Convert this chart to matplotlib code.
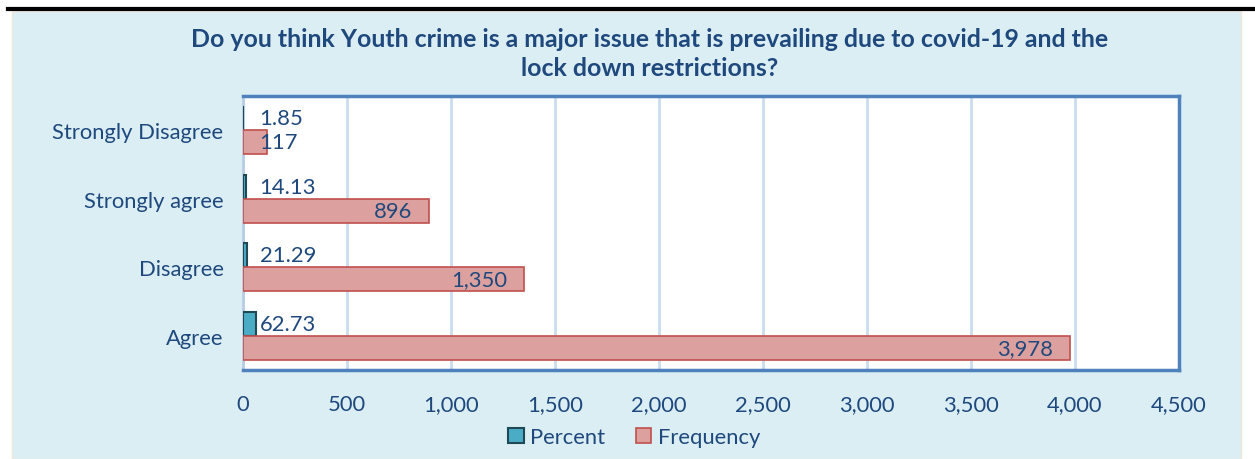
import matplotlib.pyplot as plt
import numpy as np
from matplotlib.patches import Rectangle
from matplotlib.lines import Line2D

# datos del grafico
categorias = ['Agree', 'Disagree', 'Strongly agree', 'Strongly Disagree']
frecuencia = [3978, 1350, 896, 117]
porcentaje = [62.73, 21.29, 14.13, 1.85]
ticks_x = [0, 500, 1000, 1500, 2000, 2500, 3000, 3500, 4000, 4500]
titulo = 'Do you think Youth crime is a major issue that is prevailing due to covid-19 and the\nlock down restrictions?'

azul_texto = '#1F497D'
plt.rcParams['font.family'] = ['Lato', 'DejaVu Sans']
tam = 15.8

fig = plt.figure(figsize=(12.55, 4.6), dpi=100)
fig.patch.set_facecolor('white')

# panel de fondo y linea superior
fig.patches.append(Rectangle((12 / 1255, 0), (1241 - 12) / 1255, 1 - 12 / 460,
                             transform=fig.transFigure, facecolor='#DBEEF4',
                             edgecolor='#F2E6D9', linewidth=1, zorder=-2))
fig.lines.append(Line2D([8 / 1255, 1], [1 - 9.5 / 460, 1 - 9.5 / 460],
                        transform=fig.transFigure, color='black', linewidth=3, zorder=-1))

ax = fig.add_axes([243 / 1255, 1 - 371 / 460, (1179 - 243) / 1255, (371 - 97) / 460])
ax.set_zorder(1)
ax.set_facecolor('white')

y = np.arange(len(categorias))
alto = 0.35
ax.barh(y + alto / 2, porcentaje, height=alto, color='#4BACC6', edgecolor='#1F4A55',
        linewidth=1.5, zorder=3, label='Percent')
ax.barh(y - alto / 2, frecuencia, height=alto, color='#DCA09E', edgecolor='#C0504D',
        linewidth=1.2, zorder=3, label='Frequency')

escala = 4500 / 936  # unidades por pixel
for i in range(len(categorias)):
    xp = max(porcentaje[i] + 1 * escala, 80)
    ax.text(xp, y[i] + alto / 2, f'{porcentaje[i]:.2f}', ha='left', va='center',
            fontsize=tam, color=azul_texto, zorder=4)
    f = frecuencia[i]
    if f > 400:
        ax.text(f - 17 * escala, y[i] - alto / 2, f'{f:,}', ha='right', va='center',
                fontsize=tam, color=azul_texto, zorder=4)
    else:
        ax.text(80, y[i] - alto / 2, f'{f:,}', ha='left', va='center',
                fontsize=tam, color=azul_texto, zorder=4)

ax.set_xlim(0, 4500)
ax.set_ylim(-0.5, len(categorias) - 0.5)
ax.set_xticks(ticks_x)
ax.set_xticklabels([f'{t:,}' for t in ticks_x])
ax.set_yticks(y)
ax.set_yticklabels(categorias)
ax.tick_params(axis='both', length=0, labelsize=tam, labelcolor=azul_texto)
ax.tick_params(axis='x', pad=17)
ax.tick_params(axis='y', pad=14)
ax.grid(axis='x', color='#C9DCF0', linewidth=2, zorder=1)
ax.set_axisbelow(True)
for lado in ['top', 'right', 'bottom']:
    ax.spines[lado].set_color('#4F81BD')
    ax.spines[lado].set_linewidth(2.5)
ax.spines['left'].set_color('#B9CDE5')
ax.spines['left'].set_linewidth(2)

fig.text(650 / 1255, 1 - 54 / 460, titulo, ha='center', va='center', fontsize=17.9,
         fontweight='bold', color=azul_texto, linespacing=1.35)

leg = ax.legend(loc='center', bbox_to_anchor=(0.418, -0.245), ncol=2, frameon=False,
                fontsize=tam, handlelength=0.7, handleheight=0.7, handletextpad=0.3,
                columnspacing=1.4, labelcolor=azul_texto)

fig.savefig('out.png', dpi=100)
